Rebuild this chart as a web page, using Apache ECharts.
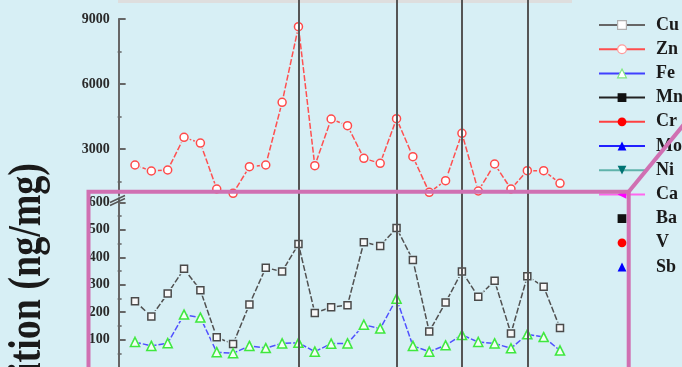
<!DOCTYPE html>
<html><head><meta charset="utf-8">
<script src="https://cdn.jsdelivr.net/npm/echarts@6/dist/echarts.min.js"></script>
<style>html,body{margin:0;padding:0;background:#d7eff5;overflow:hidden}#c{width:682px;height:367px}</style>
</head><body><div id="c"></div>
<script>
// ---- data ----
const samples = [1,2,3,4,5,6,7,8,9,10,11,12,13,14,15,16,17,18,19,20,21,22,23,24,25,26,27];
const zn = [2262,1985,2031,3540,3275,1154,954,2183,2262,5155,8645,2230,4385,4077,2570,2340,4400,2646,1000,1537,3725,1062,2308,1154,2000,2000,1417];
const cu = [240,184,268,358,280,108,84,228,362,348,448,197,218,225,455,441,507,390,129,235,348,256,314,122,331,293,142];
const fe = [91,77,87,191,180,54,50,77,69,86,88,56,85,86,154,140,249,77,56,79,117,91,86,68,119,109,60];
const dividers = [11,17,21,25];
const znTicks = [3000,6000,9000];
const znMinor = [1500,4500,7500];
const lowTicks = [100,200,300,400,500,600];
const lowMinor = [50,150,250,350,450,550];
const legendNames = ['Cu','Zn','Fe','Mn','Cr','Mo','Ni','Ca','Ba','V','Sb'];
const yLabel = 'ition (ng/mg)';

// ---- build ----
const BG = '#d7eff5', AX = '#666666', PINK = '#d070b2';
const SERIF = '"Liberation Serif", "DejaVu Serif", serif';
const chart = echarts.init(document.getElementById('c'));
const pair = v => v.map((y, i) => [samples[i], y]);
const GL = 118.65, GW = 457.7;
const grids = [
  {left: GL, width: GW, top: 19, height: 176.6},
  {left: GL, width: GW, top: 198.3, height: 179.1},
  {left: GL, width: GW, top: 0, height: 367}
];
const xAxes = [0,1,2].map(g => ({gridIndex: g, type: 'value', min: 0, max: 28, show: false}));
const lab = {fontFamily: SERIF, fontWeight: 'bold', fontSize: 14, color: '#2a2a2a', margin: 8, formatter: v => String(v)};
function mainY(g, min, max, ticks) {
  return {gridIndex: g, type: 'value', min, max, position: 'left', offset: 1,
    axisLine: {show: true, lineStyle: {color: AX, width: 2}},
    axisTick: {show: true, inside: true, length: 7, customValues: ticks, lineStyle: {color: AX, width: 2}},
    axisLabel: Object.assign({show: true, customValues: ticks}, lab),
    splitLine: {show: false}};
}
function minorY(g, min, max, ticks) {
  return {gridIndex: g, type: 'value', min, max, position: 'left', offset: 1,
    axisLine: {show: false},
    axisTick: {show: true, inside: true, length: 4, customValues: ticks, lineStyle: {color: AX, width: 1.5}},
    axisLabel: {show: false}, splitLine: {show: false}};
}
const yAxes = [
  mainY(0, 850, 9000, znTicks), minorY(0, 850, 9000, znMinor),
  mainY(1, 0, 615, lowTicks), minorY(1, 0, 615, lowMinor),
  {gridIndex: 2, type: 'value', min: 0, max: 1, show: false}
];
function dataSeries(name, vals, xi, yi, lineColor, border, fill, symbol, size) {
  const base = {type: 'line', xAxisIndex: xi, yAxisIndex: yi, data: pair(vals), symbol, silent: true, animation: false};
  return [
    Object.assign({}, base, {name, z: 2, symbolSize: size,
      lineStyle: {color: lineColor, width: 1.5, type: [6, 2]},
      itemStyle: {color: fill, borderColor: border, borderWidth: 1.5}}),
    Object.assign({}, base, {name: name + '_halo', z: 3, symbolSize: size + 4,
      lineStyle: {opacity: 0}, itemStyle: {color: BG, borderWidth: 0}}),
    Object.assign({}, base, {name: name + '_mark', z: 4, symbolSize: size,
      lineStyle: {opacity: 0}, itemStyle: {color: fill, borderColor: border, borderWidth: 1.5}})
  ];
}
function legendOnly(name, lineColor, color, symbol, rotate) {
  return {name, type: 'line', data: [], symbol, symbolRotate: rotate || 0, xAxisIndex: 1, yAxisIndex: 2,
    lineStyle: {color: lineColor, width: 2}, itemStyle: {color}};
}
const series = [].concat(
  dataSeries('Zn', zn, 0, 0, '#ff5050', '#ff4a4a', '#ffffff', 'circle', 8),
  dataSeries('Cu', cu, 1, 2, '#505050', '#4a4a4a', '#f8f8f8', 'rect', 7),
  dataSeries('Fe', fe, 1, 2, '#5050ff', '#3ee83e', '#f4fff4', 'triangle', 9),
  [
    legendOnly('Mn', '#222222', '#111111', 'rect'),
    legendOnly('Cr', '#ff4040', '#ff0000', 'circle'),
    legendOnly('Mo', '#2020ff', '#0000ff', 'triangle'),
    legendOnly('Ni', '#5fb3ab', '#007373', 'triangle', 180),
    legendOnly('Ca', '#ff66ee', '#ff00ff', 'triangle', 90),
    legendOnly('Ba', 'rgba(0,0,0,0)', '#111111', 'rect'),
    legendOnly('V', 'rgba(0,0,0,0)', '#ff0000', 'circle'),
    legendOnly('Sb', 'rgba(0,0,0,0)', '#0000ff', 'triangle'),
    {name: 'dividers', type: 'line', xAxisIndex: 2, yAxisIndex: 4, data: [], z: 10, silent: true, animation: false,
     markLine: {silent: true, symbol: ['none', 'none'], label: {show: false},
       lineStyle: {color: '#555555', width: 2, type: 'solid'},
       data: dividers.map(d => ({xAxis: d}))}}
  ]
);
const legendData = legendNames.map(n => {
  if (n === 'Cu') return {name: n, itemStyle: {color: '#ffffff', borderColor: '#b0b0b0', borderWidth: 1.2}, lineStyle: {color: '#666666'}};
  if (n === 'Zn') return {name: n, itemStyle: {color: '#ffffff', borderColor: '#ff9a9a', borderWidth: 1.2}, lineStyle: {color: '#ff4d4d'}};
  if (n === 'Fe') return {name: n, itemStyle: {color: '#ffffff', borderColor: '#80e880', borderWidth: 1.2}, lineStyle: {color: '#4040ff'}};
  return {name: n};
});

chart.setOption({
  backgroundColor: BG,
  animation: false,
  grid: grids,
  xAxis: xAxes,
  yAxis: yAxes,
  legend: {
    data: legendData, orient: 'vertical', left: 598, top: 16, padding: 0,
    itemWidth: 46, itemHeight: 11, itemGap: 6.2,
    selectedMode: false,
    lineStyle: {type: 'solid', width: 2},
    textStyle: {fontFamily: SERIF, fontWeight: 'bold', fontSize: 18, color: '#1a1a1a', padding: [0, 0, 0, 6]}
  },
  series,
  graphic: [
    {type: 'rect', z: 1, shape: {x: 118, y: 0, width: 454, height: 3}, style: {fill: '#dedede'}},
    {type: 'line', z: 20, shape: {x1: 110, y1: 202.5, x2: 125, y2: 195.5}, style: {stroke: '#555', lineWidth: 1.5}},
    {type: 'line', z: 20, shape: {x1: 110, y1: 205.5, x2: 125, y2: 198.5}, style: {stroke: '#555', lineWidth: 1.5}},
    {type: 'text', z: 20, x: 28.5, y: 163, rotation: Math.PI / 2, scaleY: 1.2,
     style: {text: yLabel, fontFamily: SERIF, fontWeight: 'bold', fontSize: 38, fill: '#1a1a1a', align: 'right', verticalAlign: 'middle'}},
    {type: 'polyline', z: 100, shape: {points: [[88.5, 370], [88.5, 191.7], [628.7, 191.7], [628.7, 370]]}, style: {stroke: PINK, lineWidth: 4, fill: null}},
    {type: 'line', z: 100, shape: {x1: 628.7, y1: 191.7, x2: 690, y2: 117}, style: {stroke: PINK, lineWidth: 4}}
  ]
});
</script>
</body></html>
